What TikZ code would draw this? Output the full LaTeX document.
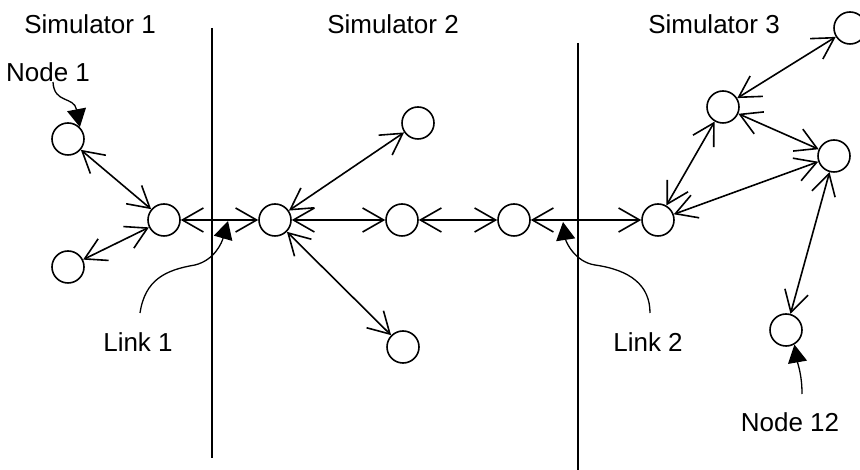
\documentclass[tikz,border=0pt]{standalone}
\usepackage{fontspec}
\setmainfont{Liberation Sans}
\usepackage{tikz}
\usetikzlibrary{arrows.meta}

\begin{document}
\begin{tikzpicture}[x=0.5pt, y=0.5pt,
  main/.style = {draw, circle, line width=0.8pt, minimum size=16pt, inner sep=0pt},
  conn/.style = {<->, line width=0.8pt, >={Straight Barb[length=10.5pt, width=12pt]}},
  pointer/.style = {-{Triangle[length=9pt, width=9.5pt]}, line width=0.65pt},
  border/.style = {line width=1pt},
  txt/.style = {inner sep=0pt, font=\fontsize{13}{15}\selectfont}]
\useasboundingbox (0,0) rectangle (860,470);

% simulator borders
\draw[border] (212,442) -- (212,12);
\draw[border] (578,427) -- (578,0);

\node[txt] (sim1) at (90,446) {Simulator 1};
\node[txt] (sim2) at (393,446) {Simulator 2};
\node[txt] (sim3) at (714,446) {Simulator 3};

% nodes
\node[main] (n1) at (68,331) {};
\node[main] (n2) at (68,203) {};
\node[main] (n3) at (164,250) {};
\node[main] (n4) at (275,250) {};
\node[main] (n5) at (418,347) {};
\node[main] (n6) at (402,250) {};
\node[main] (n7) at (403,123) {};
\node[main] (n8) at (514,250) {};
\node[main] (n9) at (658,250) {};
\node[main] (n10) at (723,363) {};
\node[main] (n11) at (834,314) {};
\node[main] (n12) at (786,140) {};
\node[main] (n13) at (850,442) {};

% links
\path (n1) edge [conn] (n3);
\path (n2) edge [conn] (n3);
\path (n3) edge [conn] (n4);
\path (n4) edge [conn] (n5);
\path (n4) edge [conn] (n6);
\path (n4) edge [conn] (n7);
\path (n6) edge [conn] (n8);
\path (n8) edge [conn] (n9);
\path (n9) edge [conn] (n10);
\path (n9) edge [conn] (n11);
\path (n10) edge [conn] (n11);
\path (n10) edge [conn] (n13);
\path (n11) edge [conn] (n12);

% labels with pointers
\node[txt] (lnode1) at (48,398) {Node 1};
\node[txt] (llink1) at (138,128) {Link 1};
\node[txt] (llink2) at (648,128) {Link 2};
\node[txt] (lnode12) at (790,48) {Node 12};

\coordinate (t1) at (53,388);
\coordinate (t2) at (140,157);
\coordinate (t3) at (650,157);
\coordinate (t4) at (802,76);
\coordinate (link1) at (228,249);
\coordinate (link2) at (563,248);

\draw[pointer] (t1) .. controls (54,366) and (74,374) .. (n1.north east);
\draw[pointer] (t2) .. controls (145,190) and (165,200) .. (195,205)
  .. controls (215,210) and (222,228) .. (link1);
\draw[pointer] (t3) .. controls (650,185) and (630,200) .. (595,205)
  .. controls (575,208) and (566,228) .. (link2);
\draw[pointer] (t4) .. controls (802,95) and (798,105) .. (n12.-60);
\end{tikzpicture}
\end{document}
